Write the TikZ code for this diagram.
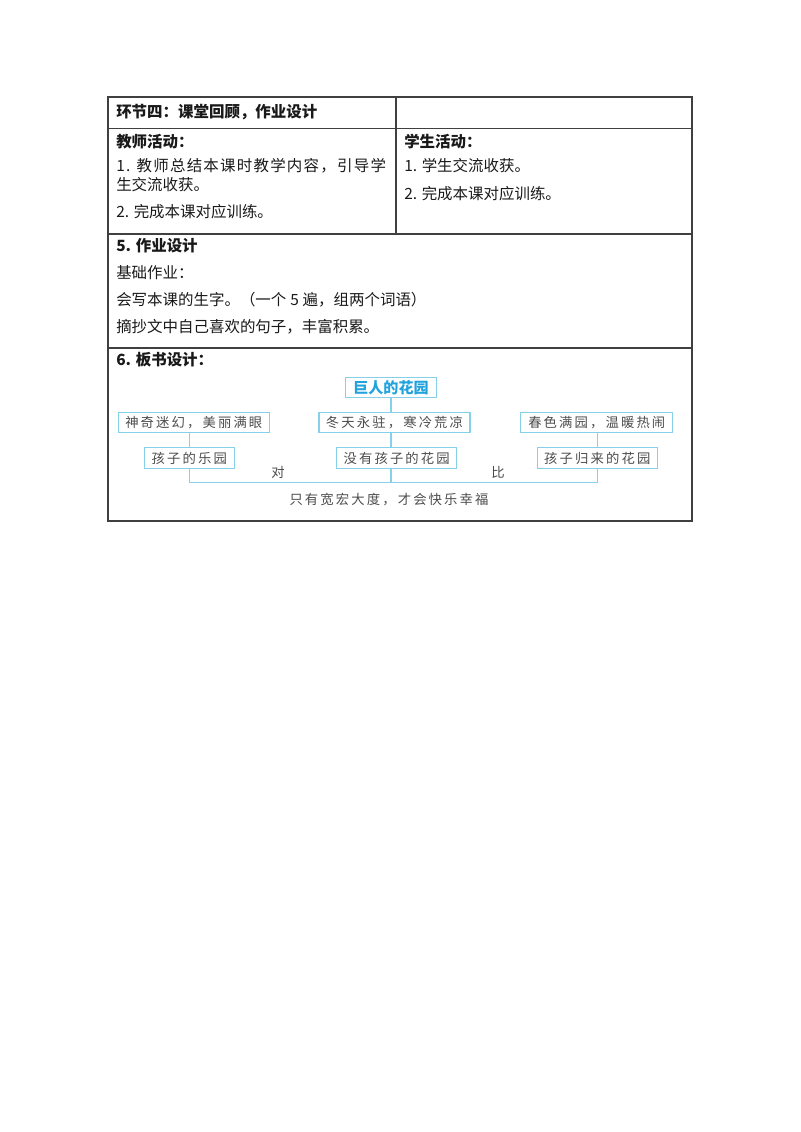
\documentclass[tikz,border=0pt]{standalone}
\usepackage{fontspec}
\setmainfont{Noto Sans CJK SC}
\newfontfamily\boardFont[LetterSpace=16]{Noto Sans CJK SC}
\newfontfamily\wideFont[LetterSpace=8]{Noto Sans CJK SC}

\definecolor{boardBlue}{HTML}{86D0EA}
\definecolor{titleBlue}{HTML}{23A3DC}
\definecolor{inkGray}{HTML}{4C4C4C}

\def\px{0.75pt}

\tikzset{
    rule/.style={black!75, line width=1pt},
    cellText/.style={anchor=west, inner sep=0pt, text=black!90,
        font=\fontsize{11.6}{14}\selectfont},
    headText/.style={cellText, font=\fontsize{11.6}{14}\selectfont\bfseries},
    boardBox/.style={draw=boardBlue, line width=0.9pt, inner sep=0pt,
        minimum height=20.5*\px, text=inkGray,
        font=\boardFont\fontsize{10}{12}\selectfont},
    titleBox/.style={boardBox, text=titleBlue,
        font=\fontsize{11.3}{13}\selectfont\bfseries},
    boardText/.style={inner sep=0pt, text=inkGray,
        font=\boardFont\fontsize{10}{12}\selectfont},
    link/.style={boardBlue, line width=0.9pt},
}

\begin{document}
\begin{tikzpicture}[x=\px, y=-\px]
    \useasboundingbox (0,0) rectangle (800,1132);
    \def\tabL{108}
    \def\tabM{396}
    \def\tabR{692}

    % Table frame
    \draw[rule] (\tabL,97) rectangle (\tabR,521);
    \foreach \y in {128.5,234,348} {
        \draw[rule] (\tabL,\y) -- (\tabR,\y);
    }
    \draw[rule] (\tabM,97) -- (\tabM,234);

    % Step four
    \node[headText] (step) at (116,112) {环节四：课堂回顾，作业设计};
    \node[headText] (teacher) at (116,142) {教师活动：};
    \node[headText] (student) at (404,142) {学生活动：};
    \node[cellText] (teachA) at (116,166) {\wideFont 1. 教师总结本课时教学内容，引导学};
    \node[cellText] (teachB) at (116,185) {生交流收获。};
    \node[cellText] (teachC) at (116,212) {2. 完成本课对应训练。};
    \node[cellText] (studA) at (404,166) {1. 学生交流收获。};
    \node[cellText] (studB) at (404,194) {2. 完成本课对应训练。};

    % Homework
    \node[headText] (homework) at (116,246) {5. 作业设计};
    \foreach \task [count=\i from 0] in {基础作业：,会写本课的生字。（一个\hspace{.25em}5\hspace{.25em}遍，组两个词语）,摘抄文中自己喜欢的句子，丰富积累。} {
        \node[cellText] (task\i) at (116,{273 + 27*\i}) {\task};
    }

    % Board design
    \node[headText] (board) at (116,360) {6. 板书设计：};
    \node[titleBox, minimum width=91*\px] (giant) at (391,387.5) {巨人的花园};

    \node[boardBox, minimum width=151*\px] (magic) at (193.8,422.5) {神奇迷幻，美丽满眼};
    \node[boardBox, minimum width=151*\px] (winter) at (394.5,422.5) {冬天永驻，寒冷荒凉};
    \node[boardBox, minimum width=152*\px] (spring) at (596.8,422.5) {春色满园，温暖热闹};

    \node[boardBox, minimum width=90*\px] (play) at (189.3,458) {孩子的乐园};
    \node[boardBox, minimum width=120*\px] (empty) at (396.7,458) {没有孩子的花园};
    \node[boardBox, minimum width=120*\px] (back) at (597.3,458) {孩子归来的花园};

    % Links
    \coordinate (bus) at (0,482.3);
    \draw[link] (play.north) -- (play.north |- magic.south);
    \draw[link] (back.north) -- (back.north |- spring.south);
    \draw[link] (play.south) -- (play.south |- bus) -| (back.south);
    \draw[link] (giant.south) -- (giant.south |- winter.north);
    \draw[link] (winter.south -| giant.south) -- (empty.north -| giant.south);
    \draw[link] (empty.south -| giant.south) -- (giant.south |- bus);

    % Contrast and moral
    \node[boardText] (dui) at (278,472) {对};
    \node[boardText] (bi) at (498,472) {比};
    \node[boardText] (moral) at (389,500) {只有宽宏大度，才会快乐幸福};
\end{tikzpicture}
\end{document}
